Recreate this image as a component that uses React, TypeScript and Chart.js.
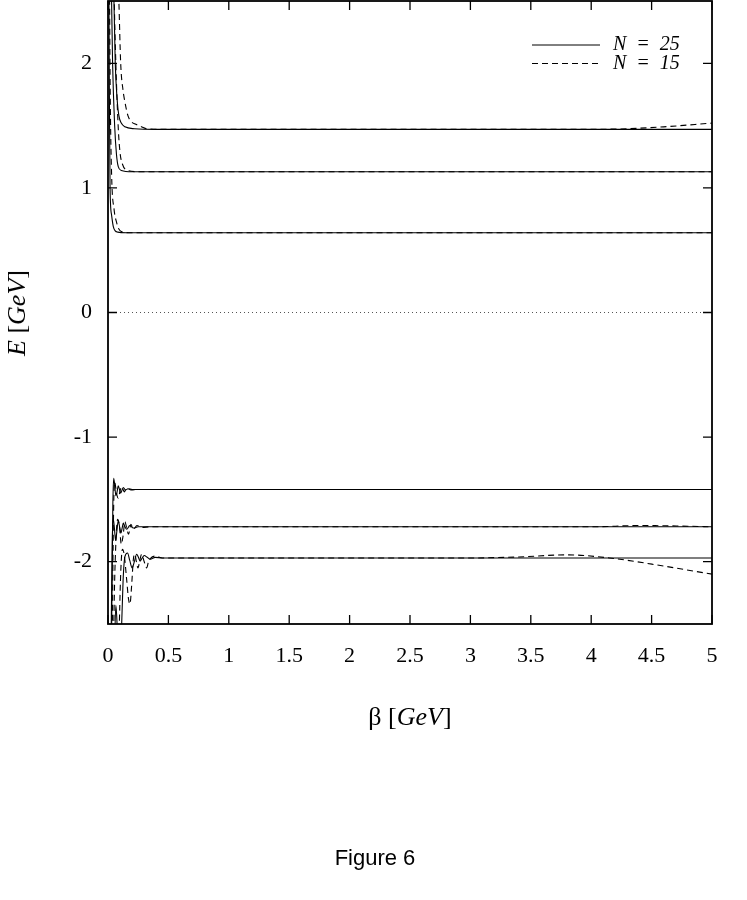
import React, { useEffect, useRef } from "react";
import { Chart, registerables } from "chart.js";

Chart.register(...registerables);

type Pt = [number, number];

// ---- axes ----
const xTickValues = [0, 0.5, 1, 1.5, 2, 2.5, 3, 3.5, 4, 4.5, 5];
const yTickValues = [-2, -1, 0, 1, 2];
const xRange: [number, number] = [0, 5];
const yRange: [number, number] = [-2.5, 2.5];
const seriesLabels = ["N = 25", "N = 15"];

// ---- N = 25 (solid) : beta [GeV], E [GeV] ----
const n25Level1: Pt[] = [[0.006, 3.0], [0.011, 1.8], [0.017, 1.0], [0.03, 0.78], [0.044, 0.69], [0.06, 0.655], [0.08, 0.645], [0.15, 0.64], [5, 0.64]];
const n25Level2: Pt[] = [[0.015, 4.0], [0.028, 2.6], [0.038, 2.0], [0.055, 1.5], [0.07, 1.27], [0.085, 1.17], [0.11, 1.14], [0.2, 1.13], [5, 1.13]];
const n25Level3: Pt[] = [[0.03, 4.0], [0.045, 2.7], [0.06, 2.0], [0.075, 1.72], [0.09, 1.58], [0.11, 1.52], [0.14, 1.49], [0.22, 1.475], [0.4, 1.47], [5, 1.47]];
const n25Level4: Pt[] = [[0.02, -4.0], [0.032, -2.3], [0.04, -1.55], [0.047, -1.33], [0.055, -1.38], [0.065, -1.47], [0.075, -1.44], [0.085, -1.39], [0.095, -1.42], [0.105, -1.45], [0.118, -1.42], [0.127, -1.405], [0.145, -1.425], [0.165, -1.415], [0.2, -1.42], [5, -1.42]];
const n25Level5: Pt[] = [[0.015, -4.0], [0.028, -2.4], [0.036, -1.8], [0.044, -1.66], [0.053, -1.73], [0.063, -1.83], [0.074, -1.75], [0.085, -1.67], [0.096, -1.72], [0.107, -1.77], [0.117, -1.73], [0.127, -1.69], [0.14, -1.72], [0.155, -1.74], [0.18, -1.71], [0.21, -1.73], [0.25, -1.72], [5, -1.72]];
const n25Level6: Pt[] = [[0.04, -4.0], [0.055, -2.7], [0.065, -2.35], [0.075, -2.5], [0.09, -3.0], [0.11, -2.6], [0.125, -2.15], [0.14, -1.96], [0.162, -1.93], [0.18, -1.99], [0.2, -2.05], [0.218, -2.0], [0.237, -1.94], [0.25, -1.96], [0.265, -1.995], [0.28, -1.975], [0.3, -1.95], [0.325, -1.965], [0.35, -1.98], [0.39, -1.965], [0.45, -1.97], [5, -1.97]];

// ---- N = 15 (dashed) ----
const n15Level1: Pt[] = [[0.01, 3.0], [0.018, 1.8], [0.03, 1.1], [0.05, 0.83], [0.072, 0.72], [0.09, 0.67], [0.11, 0.65], [0.2, 0.64], [5, 0.64]];
const n15Level2: Pt[] = [[0.03, 4.0], [0.05, 2.6], [0.065, 2.0], [0.085, 1.48], [0.1, 1.28], [0.12, 1.19], [0.15, 1.145], [0.25, 1.13], [5, 1.13]];
const n15Level3: Pt[] = [[0.06, 4.0], [0.08, 2.8], [0.09, 2.5], [0.105, 2.0], [0.125, 1.78], [0.14, 1.69], [0.165, 1.58], [0.19, 1.535], [0.23, 1.51], [0.265, 1.495], [0.32, 1.475], [0.5, 1.47], [4.0, 1.47], [4.3, 1.475], [4.6, 1.49], [5, 1.52]];
const n15Level4: Pt[] = [[0.025, -4.0], [0.038, -2.3], [0.047, -1.55], [0.055, -1.36], [0.065, -1.41], [0.075, -1.47], [0.085, -1.49], [0.1, -1.43], [0.113, -1.4], [0.125, -1.42], [0.135, -1.44], [0.15, -1.415], [0.16, -1.41], [0.19, -1.425], [0.25, -1.42], [5, -1.42]];
const n15Level5: Pt[] = [[0.03, -4.0], [0.05, -2.4], [0.065, -1.85], [0.08, -1.66], [0.095, -1.72], [0.11, -1.86], [0.125, -1.79], [0.14, -1.68], [0.155, -1.73], [0.17, -1.78], [0.19, -1.7], [0.21, -1.74], [0.24, -1.71], [0.28, -1.725], [0.35, -1.72], [4.0, -1.72], [4.4, -1.71], [4.8, -1.715], [5, -1.72]];
const n15Level6: Pt[] = [[0.07, -4.0], [0.09, -2.7], [0.105, -2.1], [0.12, -1.9], [0.135, -1.95], [0.155, -2.15], [0.17, -2.3], [0.182, -2.34], [0.195, -2.2], [0.21, -1.98], [0.222, -1.94], [0.235, -2.0], [0.248, -2.05], [0.263, -1.99], [0.278, -1.94], [0.3, -2.0], [0.32, -2.05], [0.335, -2.0], [0.35, -1.975], [0.39, -1.955], [0.45, -1.97], [0.6, -1.97], [3.0, -1.97], [3.4, -1.962], [3.8, -1.945], [4.15, -1.97], [4.6, -2.035], [5, -2.1]];

// zero reference line
const zeroLine: Pt[] = [[0, 0], [5, 0]];

const solidCurves = [n25Level1, n25Level2, n25Level3, n25Level4, n25Level5, n25Level6];
const dashedCurves = [n15Level1, n15Level2, n15Level3, n15Level4, n15Level5, n15Level6];

const SERIF = "'Liberation Serif', 'Times New Roman', 'DejaVu Serif', serif";

const framePlugin = {
  id: "frameTicksLegend",
  afterDatasetsDraw(chart: any) {
    const { ctx, chartArea: a, scales } = chart;
    ctx.save();
    ctx.setLineDash([]);
    ctx.strokeStyle = "#000";
    ctx.lineWidth = 1.8;
    ctx.strokeRect(a.left, a.top, a.right - a.left, a.bottom - a.top);
    const L = 9;
    ctx.lineWidth = 1.3;
    ctx.beginPath();
    scales.x.ticks.forEach((t: any) => {
      const px = scales.x.getPixelForValue(t.value);
      ctx.moveTo(px, a.bottom);
      ctx.lineTo(px, a.bottom - L);
      ctx.moveTo(px, a.top);
      ctx.lineTo(px, a.top + L);
    });
    scales.y.ticks.forEach((t: any) => {
      const py = scales.y.getPixelForValue(t.value);
      ctx.moveTo(a.left, py);
      ctx.lineTo(a.left + L, py);
      ctx.moveTo(a.right, py);
      ctx.lineTo(a.right - L, py);
    });
    ctx.stroke();

    // legend (inside plot, top right)
    const seen = new Set<string>();
    let row = 0;
    chart.data.datasets.forEach((ds: any) => {
      if (!ds.label || seen.has(ds.label)) return;
      seen.add(ds.label);
      const y = a.top + 44 + row * 18.5;
      ctx.beginPath();
      ctx.lineWidth = 1;
      ctx.strokeStyle = "#000";
      ctx.setLineDash(ds.borderDash || []);
      ctx.moveTo(a.right - 180, y);
      ctx.lineTo(a.right - 112, y);
      ctx.stroke();
      ctx.setLineDash([]);
      ctx.fillStyle = "#000";
      ctx.font = `italic 20px ${SERIF}`;
      try {
        (ctx as any).wordSpacing = "5px";
      } catch (e) {}
      ctx.textBaseline = "middle";
      ctx.textAlign = "left";
      ctx.fillText(ds.label, a.right - 99, y);
      row++;
    });
    ctx.restore();
  },
};

export default function App() {
  const canvasRef = useRef<HTMLCanvasElement | null>(null);

  useEffect(() => {
    if (!canvasRef.current) return;
    const toXY = (pts: Pt[]) => pts.map(([x, y]) => ({ x, y }));
    const datasets: any[] = [];
    datasets.push({
      data: toXY(zeroLine),
      borderColor: "#555",
      borderWidth: 1,
      borderDash: [1, 3],
      pointRadius: 0,
      fill: false,
    });
    solidCurves.forEach((c, i) =>
      datasets.push({
        label: i === 0 ? seriesLabels[0] : undefined,
        data: toXY(c),
        borderColor: "#000",
        borderWidth: 1.1,
        borderDash: [],
        pointRadius: 0,
        fill: false,
        cubicInterpolationMode: "monotone",
      })
    );
    dashedCurves.forEach((c, i) =>
      datasets.push({
        label: i === 0 ? seriesLabels[1] : undefined,
        data: toXY(c),
        borderColor: "#000",
        borderWidth: 1.1,
        borderDash: [6, 4],
        pointRadius: 0,
        fill: false,
        cubicInterpolationMode: "monotone",
      })
    );

    const chart = new Chart(canvasRef.current, {
      type: "line",
      data: { datasets },
      plugins: [framePlugin],
      options: {
        animation: false,
        responsive: false,
        devicePixelRatio: 1,
        events: [],
        layout: { padding: { left: 0, right: 35, top: 1, bottom: 0 } },
        plugins: { legend: { display: false }, tooltip: { enabled: false }, title: { display: false } },
        scales: {
          x: {
            type: "linear",
            min: xRange[0],
            max: xRange[1],
            afterBuildTicks: (s: any) => {
              s.ticks = xTickValues.map((v) => ({ value: v }));
            },
            afterFit: (s: any) => {
              s.height = 276;
              s.paddingLeft = 0;
              s.paddingRight = 0;
              s.paddingTop = 0;
              s.paddingBottom = 0;
            },
            grid: { display: false, drawTicks: false },
            border: { display: false },
            ticks: {
              padding: 19,
              maxRotation: 0,
              autoSkip: false,
              color: "#000",
              font: { family: SERIF, size: 22 },
              callback: (v: any) => String(v),
            },
          },
          y: {
            type: "linear",
            min: yRange[0],
            max: yRange[1],
            afterBuildTicks: (s: any) => {
              s.ticks = yTickValues.map((v) => ({ value: v }));
            },
            afterFit: (s: any) => {
              s.width = 108;
              s.paddingTop = 0;
              s.paddingBottom = 0;
              s.paddingLeft = 0;
              s.paddingRight = 0;
            },
            grid: { display: false, drawTicks: false },
            border: { display: false },
            ticks: {
              padding: 16,
              autoSkip: false,
              color: "#000",
              font: { family: SERIF, size: 22 },
              callback: (v: any) => String(v),
            },
          },
        },
      } as any,
    });
    return () => chart.destroy();
  }, []);

  return (
    <div style={{ position: "absolute", left: 0, top: 0, width: 747, height: 900, background: "#fff" }}>
      <canvas ref={canvasRef} width={747} height={900} style={{ display: "block" }} />
      <div
        style={{
          position: "absolute",
          left: 410,
          top: 717,
          transform: "translate(-50%, -50%)",
          fontFamily: SERIF,
          fontSize: 26,
          whiteSpace: "nowrap",
          color: "#000",
        }}
      >
        β [<i>GeV</i>]
      </div>
      <div
        style={{
          position: "absolute",
          left: 17,
          top: 313,
          transform: "translate(-50%, -50%) rotate(-90deg)",
          fontFamily: SERIF,
          fontSize: 26,
          whiteSpace: "nowrap",
          color: "#000",
        }}
      >
        <i>E</i> [<i>GeV</i>]
      </div>
      <div
        style={{
          position: "absolute",
          left: 375,
          top: 858,
          transform: "translate(-50%, -50%)",
          fontFamily: "'Liberation Sans', Arial, sans-serif",
          fontSize: 22,
          whiteSpace: "nowrap",
          color: "#000",
        }}
      >
        Figure 6
      </div>
    </div>
  );
}
